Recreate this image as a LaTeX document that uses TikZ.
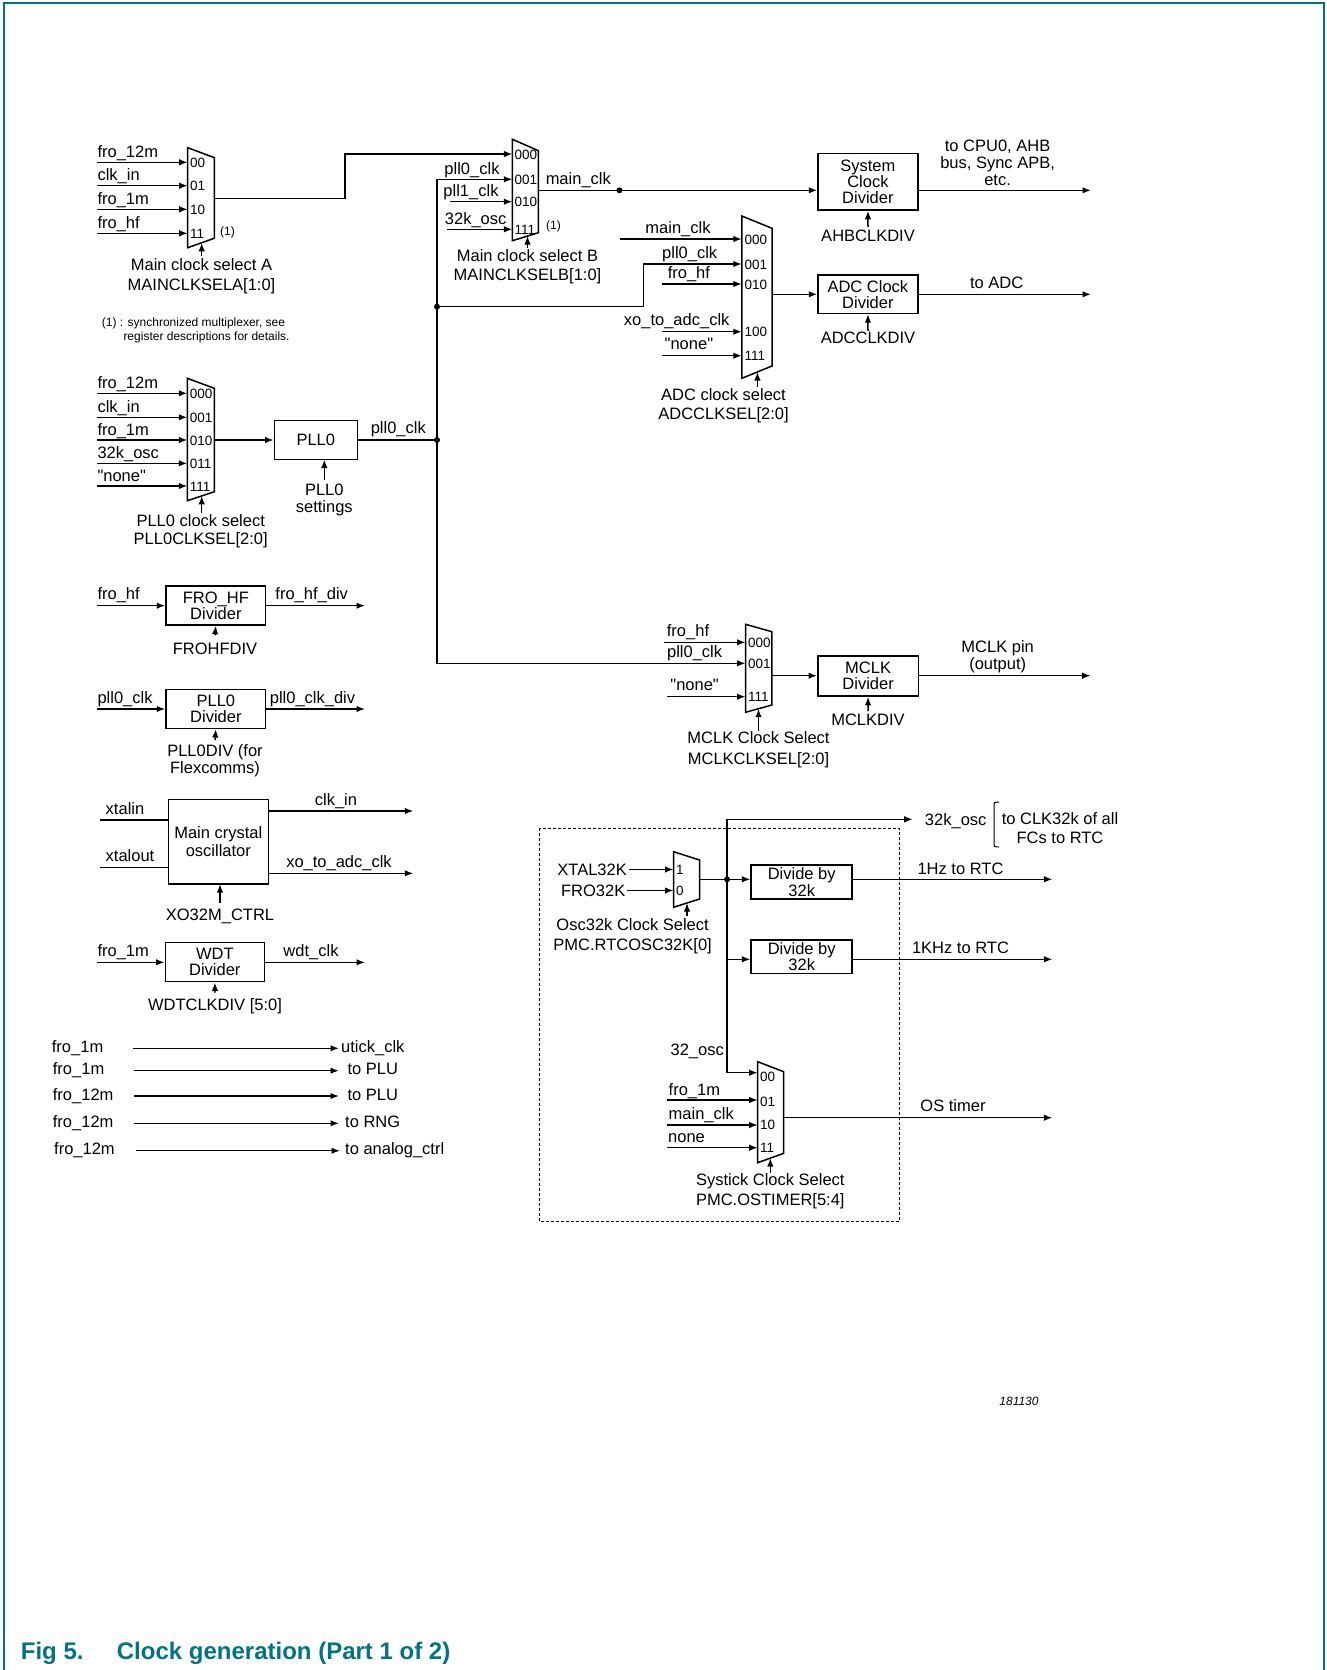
\documentclass[tikz,border=0pt]{standalone}
\usepackage{fontspec}
\setmainfont{Liberation Sans}[Ligatures=TeXOff]
\usetikzlibrary{arrows.meta}
\definecolor{nxpteal}{RGB}{0,115,134}
\newcommand{\sq}{\symbol{34}}
\begin{document}
\begin{tikzpicture}[x=1pt,y=-1pt,
  wire/.style={line width=1.5pt},
  sig/.style={line width=1.5pt,-{Latex[length=8.5pt,width=6.5pt]}},
  lbl/.style={inner sep=0pt,font=\fontsize{16.5}{16.5}\selectfont},
  lbltwo/.style={inner sep=0pt,align=center,font=\fontsize{16.5}{#1}\selectfont},
  portlbl/.style={inner sep=0pt,anchor=west,font=\fontsize{13.5}{13.5}\selectfont},
  smalltxt/.style={inner sep=0pt,font=\fontsize{12}{12}\selectfont},
  blk/.style={draw,line width=1.5pt,inner sep=0pt,align=center,font=\fontsize{16.5}{16}\selectfont},
  jdot/.style={circle,fill,inner sep=0pt,minimum size=6pt},
]
\useasboundingbox (0,0) rectangle (1326,1670);
% frame
\draw[nxpteal,line width=2pt] (4.3,1675) -- (4.3,3.3) -- (1324.3,3.3) -- (1324.3,1675);

% ===== Mux A =====
\draw[wire] (187.7,147.7) -- (214.3,157.7) -- (214.3,238.3) -- (187.7,247.7) -- cycle;
\node[portlbl] (pa0) at (190,162.8) {00};
\node[portlbl] (pa1) at (190,186.2) {01};
\node[portlbl] (pa2) at (190,209.8) {10};
\node[portlbl] (pa3) at (190,233.8) {11};
\draw[sig] (97.3,162.3) -- (187.7,162.3);
\draw[sig] (97.3,185.7) -- (187.7,185.7);
\draw[sig] (97.3,209.3) -- (187.7,209.3);
\draw[sig] (97.3,233.3) -- (187.7,233.3);
\node[lbl,anchor=base west] (ta0) at (97.3,157.3) {fro\_12m};
\node[lbl,anchor=base west] (ta1) at (97.3,180.7) {clk\_in};
\node[lbl,anchor=base west] (ta2) at (97.3,204.3) {fro\_1m};
\node[lbl,anchor=base west] (ta3) at (97.3,228.3) {fro\_hf};
\node[smalltxt,anchor=west] (na1) at (220,232) {(1)};
\draw[sig] (201.7,256) -- (201.7,242.8);
\node[lbltwo=20] (ca) at (201.5,276.7) {Main clock select A\\MAINCLKSELA[1:0]};
\draw[sig] (214.3,198.3) -- (345,198.3) -- (345,154) -- (512.4,154);
\node[smalltxt,anchor=west] (fn1) at (101.7,323.3) {(1) : synchronized multiplexer, see};
\node[smalltxt,anchor=west] (fn2) at (123.3,337.3) {register descriptions for details.};

% ===== Mux B =====
\draw[wire] (512.4,139.3) -- (538.4,150.7) -- (538.4,232.7) -- (512.4,240.7) -- cycle;
\node[portlbl] (pb0) at (514.3,154.5) {000};
\node[portlbl] (pb1) at (514.3,179.8) {001};
\node[portlbl] (pb2) at (514.3,202.2) {010};
\node[portlbl] (pb3) at (514.3,229.8) {111};
\draw[sig] (450.4,201.7) -- (512.4,201.7);
\draw[sig] (447,229.3) -- (512.4,229.3);
\draw[sig] (437,440) -- (437,179.3) -- (512.4,179.3);
\draw[sig] (437,440) -- (437,663.3) -- (745.5,663.3);
\draw[sig] (437,306.7) -- (643.3,306.7) -- (643.3,264) -- (741.8,264);
\node[jdot] (dbus1) at (437,306.7) {};
\node[lbl,anchor=base] (tb1) at (472,174.3) {pll0\_clk};
\node[lbl,anchor=base] (tb2) at (471,196.7) {pll1\_clk};
\node[lbl,anchor=base] (tb3) at (475.7,224.3) {32k\_osc};
\node[smalltxt,anchor=west] (nb1) at (546,226) {(1)};
\draw[sig] (527.5,248) -- (527.5,236);
\node[lbltwo=19] (cb) at (527.5,267.2) {Main clock select B\\MAINCLKSELB[1:0]};

% main_clk / system clock divider
\node[blk,minimum width=99.8pt,minimum height=56.7pt] (sysdiv) at (867.9,181.7) {System\\Clock\\Divider};
\draw[sig] (538.4,190.3) -- (sysdiv.west |- 0,190.3);
\node[jdot] (dmain) at (619.5,190.3) {};
\node[lbl,anchor=base] (tmain) at (578.3,184.3) {main\_clk};
\draw[sig] (sysdiv.east |- 0,190.3) -- (1091,190.3);
\node[lbltwo=16.7] (tcpu) at (997.6,162.7) {to CPU0, AHB\\bus, Sync APB,\\etc.};
\draw[sig] (868,227) -- (sysdiv.south);
\node[lbl] (ahb) at (868,235.5) {AHBCLKDIV};

% ===== ADC mux =====
\draw[wire] (741.8,216) -- (772,228.3) -- (772,366) -- (741.8,378.3) -- cycle;
\node[portlbl] (pc0) at (744.5,239.5) {000};
\node[portlbl] (pc1) at (744.5,264.5) {001};
\node[portlbl] (pc2) at (744.5,284.5) {010};
\node[portlbl] (pc3) at (744.5,332.2) {100};
\node[portlbl] (pc4) at (744.5,356.2) {111};
\draw[sig] (620.3,239) -- (741.8,239);
\draw[sig] (661.5,284) -- (741.8,284);
\draw[sig] (661.5,331.7) -- (741.8,331.7);
\draw[sig] (661.5,355.7) -- (741.8,355.7);
\node[lbl,anchor=base] (tc0) at (678,233) {main\_clk};
\node[lbl,anchor=base] (tc1) at (689.7,258) {pll0\_clk};
\node[lbl,anchor=base] (tc2) at (688.9,278) {fro\_hf};
\node[lbl,anchor=base] (tc3) at (676.7,325.7) {xo\_to\_adc\_clk};
\node[lbl,anchor=base] (tc4) at (688.9,349.7) {\sq none\sq};
\node[blk,minimum width=99.8pt,minimum height=38.3pt] (adcdiv) at (867.9,294.2) {ADC Clock\\Divider};
\draw[sig] (772,294.3) -- (adcdiv.west |- 0,294.3);
\draw[sig] (adcdiv.east |- 0,294.3) -- (1091,294.3);
\node[lbl,anchor=base] (tadc) at (996.7,288.3) {to ADC};
\draw[sig] (868,331) -- (adcdiv.south);
\node[lbl] (adck) at (868,338.3) {ADCCLKDIV};
\draw[sig] (757.4,386.7) -- (757.4,372);
\node[lbltwo=19] (cc) at (723.5,405.5) {ADC clock select\\ADCCLKSEL[2:0]};

% ===== PLL0 mux =====
\draw[wire] (187.3,378.3) -- (214.3,388.3) -- (214.3,491.7) -- (187.3,500.7) -- cycle;
\node[portlbl] (pd0) at (189.6,393.8) {000};
\node[portlbl] (pd1) at (189.6,417.8) {001};
\node[portlbl] (pd2) at (189.6,440.5) {010};
\node[portlbl] (pd3) at (189.6,463.8) {011};
\node[portlbl] (pd4) at (189.6,486.5) {111};
\draw[sig] (97.3,393.3) -- (187.3,393.3);
\draw[sig] (97.3,417.3) -- (187.3,417.3);
\draw[sig] (97.3,440) -- (187.3,440);
\draw[sig] (97.3,463.3) -- (187.3,463.3);
\draw[sig] (97.3,486) -- (187.3,486);
\node[lbl,anchor=base west] (td0) at (97.3,388.3) {fro\_12m};
\node[lbl,anchor=base west] (td1) at (97.3,412.3) {clk\_in};
\node[lbl,anchor=base west] (td2) at (97.3,435) {fro\_1m};
\node[lbl,anchor=base west] (td3) at (97.3,458.3) {32k\_osc};
\node[lbl,anchor=base west] (td4) at (97.3,481) {\sq none\sq};
\node[blk,minimum width=83pt,minimum height=39pt] (pll0) at (315.8,440) {PLL0};
\draw[sig] (214.3,440) -- (pll0.west);
\draw[wire] (pll0.east) -- (437,440);
\node[jdot] (dbus2) at (437,440) {};
\node[lbl,anchor=base] (tpll) at (398.3,433) {pll0\_clk};
\draw[sig] (324.3,480) -- (324.3,459.5);
\node[lbltwo=16.6] (pllset) at (324.3,500) {PLL0\\settings};
\draw[sig] (201.7,513) -- (201.7,495.9);
\node[lbltwo=17.7] (cd) at (200.7,531) {PLL0 clock select\\PLL0CLKSEL[2:0]};

% ===== FRO_HF divider =====
\node[blk,minimum width=99.7pt,minimum height=39pt] (frohf) at (215.85,605.5) {FRO\_HF\\Divider};
\draw[sig] (97.3,605.7) -- (frohf.west |- 0,605.7);
\node[lbl,anchor=base west] (tf0) at (97.3,599.7) {fro\_hf};
\draw[sig] (frohf.east |- 0,605.7) -- (365,605.7);
\node[lbl,anchor=base] (tf1) at (311.7,599.7) {fro\_hf\_div};
\draw[sig] (215,635) -- (frohf.south);
\node[lbl] (frohfdiv) at (215,649.3) {FROHFDIV};

% ===== PLL0 divider =====
\node[blk,minimum width=99.7pt,minimum height=39pt] (pll0div) at (215.85,708.8) {PLL0\\Divider};
\draw[sig] (97.3,709) -- (pll0div.west |- 0,709);
\node[lbl,anchor=base west] (tg0) at (97.3,703) {pll0\_clk};
\draw[sig] (pll0div.east |- 0,709) -- (365,709);
\node[lbl,anchor=base] (tg1) at (312.5,703) {pll0\_clk\_div};
\draw[sig] (215,740) -- (pll0div.south);
\node[lbltwo=16.6] (pll0dv) at (215,761) {PLL0DIV (for\\Flexcomms)};

% ===== Main crystal oscillator =====
\node[blk,minimum width=100pt,minimum height=84.7pt,font=\fontsize{16.5}{17.4}\selectfont] (xo) at (218.3,841.65) {Main crystal\\oscillator};
\draw[wire] (100,820) -- (xo.west |- 0,820);
\draw[wire] (100,867.3) -- (xo.west |- 0,867.3);
\node[lbl,anchor=base] (th0) at (125,814) {xtalin};
\node[lbl,anchor=base] (th1) at (130,861.3) {xtalout};
\draw[sig] (xo.east |- 0,811) -- (413.3,811);
\node[lbl,anchor=base] (th2) at (336,805) {clk\_in};
\draw[sig] (xo.east |- 0,873.3) -- (413.3,873.3);
\node[lbl,anchor=base] (th3) at (339,867.3) {xo\_to\_adc\_clk};
\draw[sig] (220,903.3) -- (220,884);
\node[lbl] (xoctrl) at (220,916) {XO32M\_CTRL};

% ===== WDT divider =====
\node[blk,minimum width=99pt,minimum height=39pt] (wdt) at (214.8,962.2) {WDT\\Divider};
\draw[sig] (97.3,962.3) -- (wdt.west |- 0,962.3);
\node[lbl,anchor=base west] (tw0) at (97.3,956.3) {fro\_1m};
\draw[sig] (wdt.east |- 0,962.3) -- (365,962.3);
\node[lbl,anchor=base] (tw1) at (311,956.3) {wdt\_clk};
\draw[sig] (215,992.7) -- (wdt.south);
\node[lbl] (wdtdiv) at (215,1006) {WDTCLKDIV [5:0]};

% ===== direct clocks =====
\node[lbl,anchor=base west] (r1a) at (51.7,1052.3) {fro\_1m};
\node[lbl,anchor=base west] (r1b) at (341,1052.3) {utick\_clk};
\draw[sig] (133.3,1048.3) -- (339,1048.3);
\node[lbl,anchor=base west] (r2a) at (52.7,1074.7) {fro\_1m};
\node[lbl,anchor=base west] (r2b) at (347.3,1074.7) {to PLU};
\draw[sig] (134.3,1070.7) -- (339,1070.7);
\node[lbl,anchor=base west] (r3a) at (52.7,1100) {fro\_12m};
\node[lbl,anchor=base west] (r3b) at (347.3,1100) {to PLU};
\draw[sig] (134.3,1096) -- (339,1096);
\node[lbl,anchor=base west] (r4a) at (52.7,1127.3) {fro\_12m};
\node[lbl,anchor=base west] (r4b) at (345,1127.3) {to RNG};
\draw[sig] (134.3,1123.3) -- (339,1123.3);
\node[lbl,anchor=base west] (r5a) at (54,1154.7) {fro\_12m};
\node[lbl,anchor=base west] (r5b) at (345,1154.7) {to analog\_ctrl};
\draw[sig] (136,1150.7) -- (340,1150.7);

% ===== MCLK mux =====
\draw[wire] (745.5,624.3) -- (771.9,631.7) -- (771.9,705) -- (745.5,712.3) -- cycle;
\node[portlbl] (pm0) at (747.8,642.8) {000};
\node[portlbl] (pm1) at (747.8,663.8) {001};
\node[portlbl] (pm2) at (747.8,697.2) {111};
\draw[sig] (664,642.3) -- (745.5,642.3);
\draw[sig] (667,696.7) -- (745.5,696.7);
\node[lbl,anchor=base] (tm0) at (688,636.3) {fro\_hf};
\node[lbl,anchor=base] (tm1) at (694.6,657.3) {pll0\_clk};
\node[lbl,anchor=base] (tm2) at (694.6,690.7) {\sq none\sq};
\node[blk,minimum width=100.6pt,minimum height=40pt] (mclk) at (868.1,676) {MCLK\\Divider};
\draw[sig] (771.9,675.7) -- (mclk.west |- 0,675.7);
\draw[sig] (mclk.east |- 0,675.7) -- (1090.7,675.7);
\node[lbltwo=16.7] (tmpin) at (997.7,656.7) {MCLK pin\\(output)};
\draw[sig] (868,711) -- (mclk.south);
\node[lbl] (mclkdiv) at (868,719.5) {MCLKDIV};
\draw[sig] (758.5,730.7) -- (758.5,708.7);
\node[lbltwo=20.7] (cm) at (758.5,749.7) {MCLK Clock Select\\MCLKCLKSEL[2:0]};

% ===== 32k domain =====
\draw[line width=1.5pt,dash pattern=on 3pt off 2pt] (539.6,828.3) rectangle (899.3,1221.7);
\draw[line width=1pt] (999,802) .. controls (994,802) .. (994,807) -- (994,842) .. controls (994,847) .. (999,847);
\node[lbltwo=19] (tclk32) at (1060,827.8) {to CLK32k of all\\FCs to RTC};

\draw[wire] (673.5,851.7) -- (699.5,860) -- (699.5,899) -- (673.5,907.3) -- cycle;
\node[portlbl] (po1) at (676,870) {1};
\node[portlbl] (po0) at (676,891) {0};
\node[lbl,anchor=east] (xtal) at (627,869.5) {XTAL32K};
\node[lbl,anchor=east] (fro32) at (625.5,890.5) {FRO32K};
\draw[sig] (628.7,869.5) -- (673.5,869.5);
\draw[sig] (626.5,890.5) -- (673.5,890.5);
\draw[sig] (687,916) -- (687,903);
\node[lbltwo=20] (co) at (632.6,936.7) {Osc32k Clock Select\\PMC.RTCOSC32K[0]};

\node[blk,minimum width=101pt,minimum height=34pt,font=\fontsize{16.5}{15.3}\selectfont] (div1) at (801.7,882) {Divide by\\32k};
\node[blk,minimum width=101pt,minimum height=33.3pt,font=\fontsize{16.5}{15.3}\selectfont] (div2) at (801.7,956.7) {Divide by\\32k};
\draw[sig] (699.5,879.3) -- (div1.west |- 0,879.3);
\node[jdot] (d32) at (727,879.3) {};
\draw[sig] (727,879.3) -- (727,819.3) -- (912.7,819.3);
\draw[sig] (727,879.3) -- (727,1072.7) -- (757.7,1072.7);
\draw[sig] (727,959.3) -- (div2.west |- 0,959.3);
\node[lbl,anchor=base] (t32k) at (955.7,825) {32k\_osc};
\draw[sig] (div1.east |- 0,879.3) -- (1052.4,879.3);
\node[lbl,anchor=base] (t1hz) at (960.5,874) {1Hz to RTC};
\draw[sig] (div2.east |- 0,959.3) -- (1052.4,959.3);
\node[lbl,anchor=base] (t1khz) at (960.5,953.5) {1KHz to RTC};

% ===== Systick mux =====
\draw[wire] (757.7,1061.7) -- (783.7,1071.7) -- (783.7,1153.3) -- (757.7,1162.7) -- cycle;
\node[portlbl] (ps0) at (760,1077.3) {00};
\node[portlbl] (ps1) at (760,1101.7) {01};
\node[portlbl] (ps2) at (760,1124.8) {10};
\node[portlbl] (ps3) at (760,1148) {11};
\draw[sig] (667,1100) -- (757.7,1100);
\draw[sig] (667,1125) -- (757.7,1125);
\draw[sig] (667,1147.7) -- (757.7,1147.7);
\node[lbl,anchor=base] (ts0) at (697.2,1055) {32\_osc};
\node[lbl,anchor=base west] (ts1) at (668.5,1095) {fro\_1m};
\node[lbl,anchor=base west] (ts2) at (668.5,1119.5) {main\_clk};
\node[lbl,anchor=base west] (ts3) at (668,1142) {none};
\draw[sig] (783.7,1117.7) -- (1052.4,1117.7);
\node[lbl,anchor=base] (tos) at (953,1111) {OS timer};
\draw[sig] (770.3,1172.7) -- (770.3,1158.1);
\node[lbltwo=20] (cs) at (770.3,1191.7) {Systick Clock Select\\PMC.OSTIMER[5:4]};

% ===== footer =====
\node[inner sep=0pt,font=\fontsize{12}{12}\selectfont\itshape] (fignum) at (1019,1401.7) {181130};
\node[inner sep=0pt,anchor=base west,text=nxpteal,font=\fontsize{24}{24}\selectfont\bfseries] (figno) at (20.7,1659) {Fig 5.};
\node[inner sep=0pt,anchor=base west,text=nxpteal,font=\fontsize{24}{24}\selectfont\bfseries] (figtitle) at (116.7,1659) {Clock generation (Part 1 of 2)};
\end{tikzpicture}
\end{document}
